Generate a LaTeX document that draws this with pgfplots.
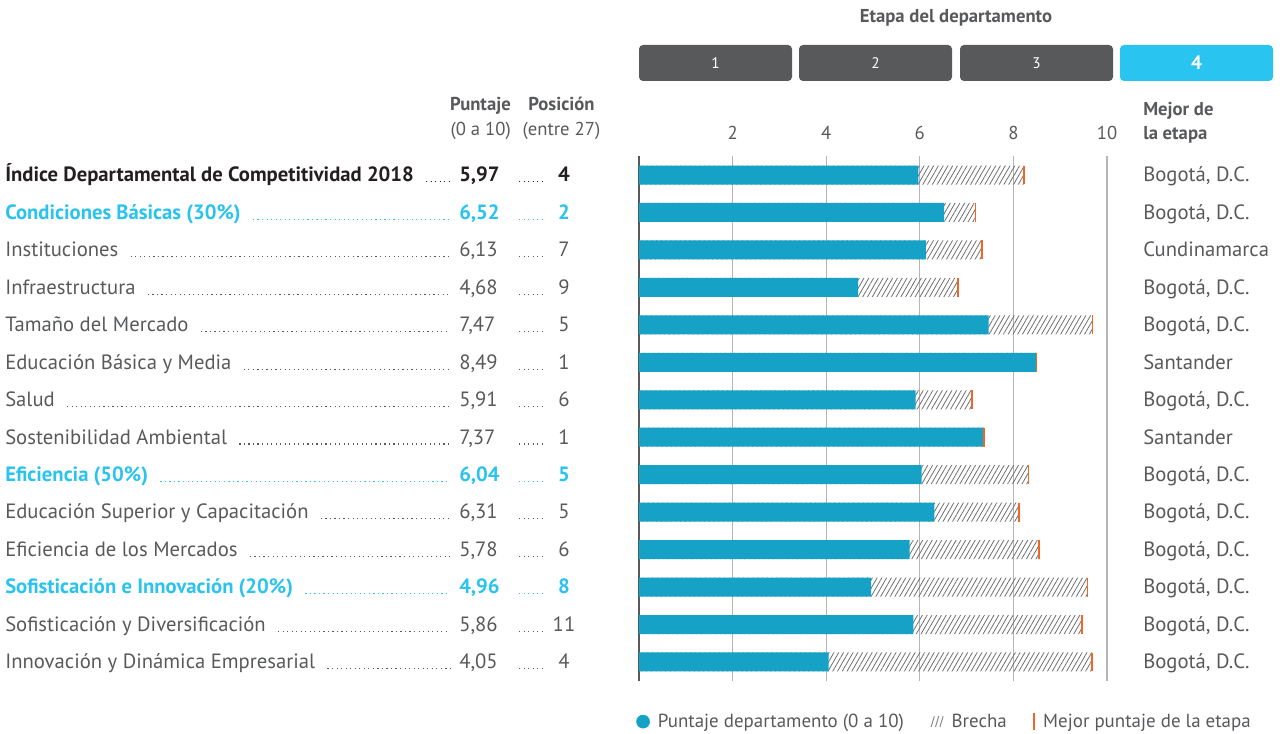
\documentclass[border=0pt]{standalone}
\usepackage{pgfplots}
\pgfplotsset{compat=1.18}
\usepackage{pgfplotstable}
\usetikzlibrary{patterns.meta}
\usepackage{fontspec}
\setmainfont{PT Sans}
\definecolor{txtgray}{HTML}{58595B}
\definecolor{txtblack}{HTML}{231F20}
\definecolor{txtblue}{HTML}{29C3EE}
\definecolor{barblue}{HTML}{16A2C6}
\definecolor{boxblue}{HTML}{29C4F0}
\definecolor{bestorange}{HTML}{F26522}
\definecolor{gridgray}{HTML}{B5B5B5}
\definecolor{hatchgray}{HTML}{6D6E70}

\pgfplotstableread{
row score best
14 5.97 8.23
13 6.52 7.19
12 6.13 7.33
11 4.68 6.81
10 7.47 9.69
9 8.49 8.49
8 5.91 7.11
7 7.37 7.37
6 6.04 8.32
5 6.31 8.12
4 5.78 8.55
3 4.96 9.58
2 5.86 9.47
1 4.05 9.68
}\datatab

\newcommand\rowfont{\fontsize{15.5}{18}\selectfont}
\tikzset{leader/.style={line width=0.8pt, dash pattern=on 0.9pt off 2.5pt}}

\begin{document}
\begin{tikzpicture}[x=0.75pt,y=0.75pt]
\useasboundingbox (0,0) rectangle (1283,733);
\begin{axis}[
  at={(479.25pt,39.225pt)}, anchor=south west,
  scale only axis, width=351pt, height=393.3pt,
  xmin=0, xmax=10, ymin=0.5, ymax=14.5,
  xtick={2,4,6,8,10}, ytick=\empty,
  xticklabel pos=upper,
  xmajorgrids, grid style={gridgray, line width=0.8pt},
  extra x ticks={0}, extra x tick labels={},
  extra x tick style={grid style={txtgray, line width=1.3pt}},
  axis line style={draw=none},
  major tick length=0pt,
  xticklabel style={anchor=center, yshift=17.5pt, font=\fontsize{14}{16}\selectfont, text=txtgray},
  /pgf/number format/assume math mode=true,
  clip=false,
  legend style={at={(-0.0064,-0.078)}, anchor=west, draw=none, fill=none, inner sep=0pt,
    font=\fontsize{14.2}{17}\selectfont, text=txtgray,
    /tikz/every odd column/.append style={column sep=4pt},
    /tikz/every even column/.append style={column sep=18pt}},
  legend columns=3, legend cell align=left,
]
\addlegendimage{barblue, fill=barblue, legend image code/.code={\fill (0,0) circle (4.9pt);}}
\addlegendimage{hatchgray!80, line width=0.75pt, legend image code/.code={\draw (-5pt,-4pt) -- (-2.6pt,4pt) (-1.7pt,-4pt) -- (0.7pt,4pt) (1.6pt,-4pt) -- (4pt,4pt);}}
\addlegendimage{bestorange, line width=1.3pt, legend image code/.code={\draw (0,-6.5pt) -- (0,6.5pt);}}

\addplot[forget plot, xbar, bar shift=0pt, bar width=14.25pt, draw=none,
  pattern={Lines[angle=60,distance=3.1pt,line width=0.6pt]}, pattern color=hatchgray]
  table[x=best, y=row]{\datatab};
\addplot[forget plot, xbar, bar shift=0pt, bar width=14.25pt, draw=none, fill=barblue]
  table[x=score, y=row]{\datatab};
\addplot[forget plot, only marks, mark=|, mark size=7.1pt, mark options={bestorange, line width=1.2pt}]
  table[x=best, y=row]{\datatab};
\legend{Puntaje departamento (0 a 10), Brecha, Mejor puntaje de la etapa}
\end{axis}

% title and stage boxes
\node[font=\bfseries\fontsize{14}{16}\selectfont, text=txtgray] at (956,715) {Etapa del departamento};
\fill[txtgray, rounded corners=3pt] (639,652) rectangle (792,688);
\fill[txtgray, rounded corners=3pt] (799,652) rectangle (952,688);
\fill[txtgray, rounded corners=3pt] (960,652) rectangle (1113,688);
\fill[boxblue, rounded corners=3pt] (1120,652) rectangle (1273,688);
\node[text=white, font=\fontsize{11.5}{12}\selectfont] at (715.5,670) {1};
\node[text=white, font=\fontsize{11.5}{12}\selectfont] at (875.5,670) {2};
\node[text=white, font=\fontsize{11.5}{12}\selectfont] at (1036.5,670) {3};
\node[text=white, font=\bfseries\fontsize{14.5}{15}\selectfont] at (1196.5,670) {4};

% headers
\node[anchor=base east, inner sep=0, text=txtgray, font=\bfseries\fontsize{14}{16}\selectfont] at (511,622) {Puntaje};
\node[anchor=base east, inner sep=0, text=txtgray, font=\fontsize{14}{16}\selectfont] at (511,597) {(0 a 10)};
\node[anchor=base, inner sep=0, text=txtgray, font=\bfseries\fontsize{14}{16}\selectfont] at (561.5,622) {Posición};
\node[anchor=base, inner sep=0, text=txtgray, font=\fontsize{14}{16}\selectfont] at (561.5,597) {(entre 27)};
\node[anchor=base west, inner sep=0, text=txtgray, font=\bfseries\fontsize{14}{16}\selectfont] at (1143,617) {Mejor de};
\node[anchor=base west, inner sep=0, text=txtgray, font=\bfseries\fontsize{14}{16}\selectfont] at (1143,593) {la etapa};

% rows
\foreach \i/\lab/\sc/\pos/\bst/\tc/\fw in {
1/{Índice Departamental de Competitividad 2018}/{5,97}/4/{Bogotá, D.C.}/txtblack/\bfseries,
2/{Condiciones Básicas (30\%)}/{6,52}/2/{Bogotá, D.C.}/txtblue/\bfseries,
3/{Instituciones}/{6,13}/7/{Cundinamarca}/txtgray/\mdseries,
4/{Infraestructura}/{4,68}/9/{Bogotá, D.C.}/txtgray/\mdseries,
5/{Tamaño del Mercado}/{7,47}/5/{Bogotá, D.C.}/txtgray/\mdseries,
6/{Educación Básica y Media}/{8,49}/1/{Santander}/txtgray/\mdseries,
7/{Salud}/{5,91}/6/{Bogotá, D.C.}/txtgray/\mdseries,
8/{Sostenibilidad Ambiental}/{7,37}/1/{Santander}/txtgray/\mdseries,
9/{Eficiencia (50\%)}/{6,04}/5/{Bogotá, D.C.}/txtblue/\bfseries,
10/{Educación Superior y Capacitación}/{6,31}/5/{Bogotá, D.C.}/txtgray/\mdseries,
11/{Eficiencia de los Mercados}/{5,78}/6/{Bogotá, D.C.}/txtgray/\mdseries,
12/{Sofisticación e Innovación (20\%)}/{4,96}/8/{Bogotá, D.C.}/txtblue/\bfseries,
13/{Sofisticación y Diversificación}/{5,86}/11/{Bogotá, D.C.}/txtgray/\mdseries,
14/{Innovación y Dinámica Empresarial}/{4,05}/4/{Bogotá, D.C.}/txtgray/\mdseries}{
  \pgfmathsetmacro\yb{558-(\i-1)*37.46-6.8}
  \node[anchor=base west, inner sep=0, text=\tc, font={\rowfont\fw}] (L) at (5,\yb) {\lab};
  \draw[\tc, leader] ([xshift=9pt]L.base east) -- (450,\yb);
  \node[anchor=base west, inner sep=0, text=\tc, font={\rowfont\fw}] at (459,\yb) {\sc};
  \draw[\tc, leader] (519,\yb) -- (546,\yb);
  \node[anchor=base, inner sep=0, text=\tc, font={\rowfont\fw}] at (564,\yb) {\pos};
  \node[anchor=base west, inner sep=0, text=txtgray, font=\rowfont] at (1143,\yb) {\bst};
}
\end{tikzpicture}
\end{document}
